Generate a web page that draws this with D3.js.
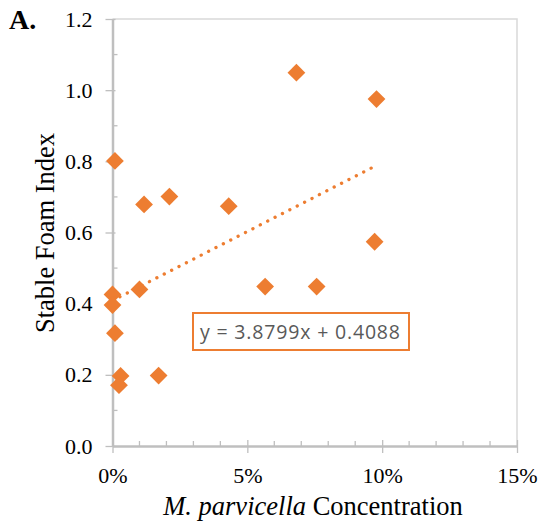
<!DOCTYPE html>
<html>
<head>
<meta charset="utf-8">
<script src="https://cdn.jsdelivr.net/npm/d3@7"></script>
<style>
  body { margin: 0; background: #fff; }
</style>
</head>
<body>
<script>
// M. parvicella concentration (fraction) vs stable foam index
const concentration = [0.0009, 0.0117, 0.0211, 0.0431, 0.0682, 0.0979, 0.0972,
  0.0000, 0.0000, 0.0100, 0.0009, 0.0030, 0.0024, 0.0171, 0.0566, 0.0757];
const foamIndex = [0.801, 0.679, 0.701, 0.674, 1.049, 0.975, 0.574,
  0.426, 0.396, 0.440, 0.317, 0.197, 0.171, 0.198, 0.448, 0.448];
const yTicks = [0, 0.2, 0.4, 0.6, 0.8, 1.0, 1.2];
const xTicks = [0, 0.05, 0.10, 0.15];
const slope = 3.8799;
const intercept = 0.4088;

const serif = '"Liberation Serif"';

const main = () => {
  const width = 539;
  const height = 531;
  const orange = '#ED7D31';
  const axisGray = '#BFBFBF';

  const x = d3.scaleLinear().domain([0, 0.15]).range([112.5, 517]);
  const y = d3.scaleLinear().domain([0, 1.2]).range([446, 19]);

  const svg = d3.select('body').append('svg')
    .attr('width', width)
    .attr('height', height);

  // plot area border (top + right)
  svg.append('path')
    .attr('d', `M${x(0)},${y(1.2)}H${x(0.15)}V${y(0)}`)
    .attr('fill', 'none')
    .attr('stroke', '#D9D9D9')
    .attr('stroke-width', 1.5);

  // minor ticks (inside)
  svg.append('g').selectAll('line')
    .data(d3.range(1, 12, 2).map((d) => d / 10))
    .join('line')
    .attr('x1', x(0)).attr('x2', x(0) + 5)
    .attr('y1', (d) => y(d)).attr('y2', (d) => y(d))
    .attr('stroke', axisGray).attr('stroke-width', 1.3);

  svg.append('g').selectAll('line')
    .data(d3.range(1, 15).filter((d) => d % 5 !== 0).map((d) => d / 100))
    .join('line')
    .attr('x1', (d) => x(d)).attr('x2', (d) => x(d))
    .attr('y1', y(0)).attr('y2', y(0) - 5)
    .attr('stroke', axisGray).attr('stroke-width', 1.3);

  // y axis
  const yAxis = svg.append('g')
    .attr('transform', `translate(${x(0)},0)`)
    .call(d3.axisLeft(y).tickValues(yTicks).tickFormat(d3.format('.1f'))
      .tickSizeInner(7).tickSizeOuter(0).tickPadding(13));
  yAxis.attr('font-family', null).attr('font-size', null);
  yAxis.select('.domain').attr('stroke', axisGray).attr('stroke-width', 2.5);
  yAxis.selectAll('.tick line').attr('stroke', axisGray).attr('stroke-width', 1.3).attr('x2', -7).attr('x1', 3);
  yAxis.selectAll('.tick text')
    .style('font-family', serif)
    .style('font-size', '22px').attr('fill', '#000');

  // x axis
  const xAxis = svg.append('g')
    .attr('transform', `translate(0,${y(0)})`)
    .call(d3.axisBottom(x).tickValues(xTicks).tickFormat(d3.format('.0%'))
      .tickSizeInner(7).tickSizeOuter(0).tickPadding(14));
  xAxis.attr('font-family', null).attr('font-size', null);
  xAxis.select('.domain').attr('stroke', axisGray).attr('stroke-width', 2.5);
  xAxis.selectAll('.tick line').attr('stroke', axisGray).attr('stroke-width', 1.3).attr('y1', -6).attr('y2', 7);
  xAxis.selectAll('.tick text')
    .style('font-family', serif)
    .style('font-size', '22px').attr('fill', '#000');

  // trend line
  const xMax = d3.max(concentration);
  svg.append('line')
    .attr('x1', x(0)).attr('y1', y(intercept))
    .attr('x2', x(xMax)).attr('y2', y(slope * xMax + intercept))
    .attr('stroke', orange)
    .attr('stroke-width', 3.3)
    .attr('stroke-linecap', 'round')
    .attr('stroke-dasharray', '0.1 8.2');

  // markers
  const pts = concentration.map((c, i) => [c, foamIndex[i]]);
  svg.append('g').selectAll('path')
    .data(pts)
    .join('path')
    .attr('d', d3.symbol().type(d3.symbolSquare).size(158))
    .attr('transform', (d) => `translate(${x(d[0])},${y(d[1])}) rotate(45)`)
    .attr('fill', orange);

  // equation label
  svg.append('rect')
    .attr('x', 193).attr('y', 313)
    .attr('width', 216).attr('height', 37)
    .attr('fill', '#fff')
    .attr('stroke', orange)
    .attr('stroke-width', 2);
  svg.append('text')
    .attr('x', 200).attr('y', 339)
    .attr('textLength', 200)
    .attr('lengthAdjust', 'spacing')
    .style('font-family', '"Open Sans"')
    .style('font-size', '19.5px')
    .attr('fill', '#595959')
    .text(`y = ${slope}x + ${intercept}`);

  // axis titles
  svg.append('text')
    .attr('transform', 'translate(54,233) rotate(-90)')
    .attr('text-anchor', 'middle')
    .style('font-family', serif)
    .style('font-size', '26.5px')
    .text('Stable Foam Index');

  const xt = svg.append('text')
    .attr('x', 313).attr('y', 515)
    .attr('text-anchor', 'middle')
    .style('font-family', serif)
    .style('font-size', '26.5px');
  xt.append('tspan').style('font-style', 'italic').text('M. parvicella');
  xt.append('tspan').text(' Concentration');

  // panel letter
  svg.append('text')
    .attr('x', 9).attr('y', 29)
    .style('font-family', serif)
    .style('font-size', '28px')
    .style('font-weight', 'bold')
    .text('A.');
};

main();
</script>
</body>
</html>
